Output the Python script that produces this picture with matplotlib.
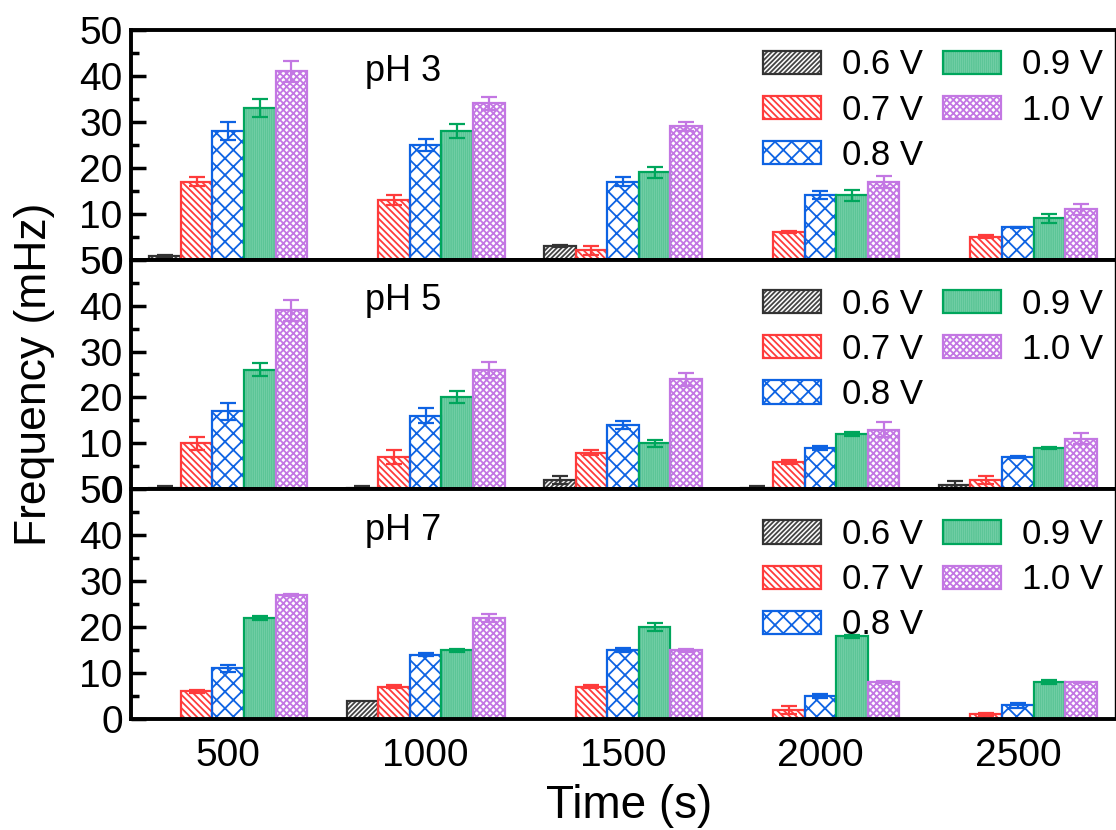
import numpy as np
import matplotlib
matplotlib.use("Agg")
import matplotlib.pyplot as plt

plt.rcParams['font.family'] = ['Liberation Sans', 'DejaVu Sans']
plt.rcParams['hatch.linewidth'] = 1.3

times = [500, 1000, 1500, 2000, 2500]
voltages = ['0.6 V', '0.7 V', '0.8 V', '0.9 V', '1.0 V']
panels = ['pH 3', 'pH 5', 'pH 7']

# frequency (mHz) per voltage, one row per voltage, columns = times
ph3 = [[0.8, 0, 3, 0, 0],
       [17, 13, 2, 6, 5],
       [28, 25, 17, 14, 7],
       [33, 28, 19, 14, 9],
       [41, 34, 29, 17, 11]]
ph3_err = [[0.2, 0, 0.2, 0, 0],
           [1, 1, 1, 0.2, 0.3],
           [2, 1.3, 1, 0.9, 0.1],
           [2, 1.6, 1.2, 1.2, 1],
           [2.3, 1.5, 1, 1.3, 1.2]]

ph5 = [[0.2, 0.2, 2, 0.2, 1],
       [10, 7, 8, 6, 2],
       [17, 16, 14, 9, 7],
       [26, 20, 10, 12, 9],
       [39, 26, 24, 13, 11]]
ph5_err = [[0.6, 0.6, 0.8, 0.5, 0.8],
           [1.4, 1.5, 0.6, 0.4, 0.8],
           [1.8, 1.6, 0.8, 0.4, 0.2],
           [1.4, 1.3, 0.8, 0.4, 0.2],
           [2.3, 1.8, 1.4, 1.6, 1.2]]

ph7 = [[0, 4, 0, 0, 0],
       [6, 7, 7, 2, 1],
       [11, 14, 15, 5, 3],
       [22, 15, 20, 18, 8],
       [27, 22, 15, 8, 8]]
ph7_err = [[0, 0, 0, 0, 0],
           [0.3, 0.3, 0.3, 0.8, 0.3],
           [0.8, 0.3, 0.4, 0.4, 0.5],
           [0.4, 0.3, 0.8, 0.3, 0.4],
           [0.3, 0.8, 0.3, 0.2, 0.1]]

edge_colors = ['#333333', '#fe3b3b', '#0e63e3', '#00a65c', '#c377e3']
hatch_colors = ['#444444', '#fe3b3b', '#0e63e3', '#5cc597', '#c377e3']
face_colors = ['white', 'white', 'white', '#a6e5c8', 'white']
hatches = ['///////', '\\\\\\\\\\', 'xx', '||||||||', 'xxxxx']

width = 80
offsets = [-160, -80, 0, 80, 160]

fig, axes = plt.subplots(3, 1, sharex=True, figsize=(11.16, 8.3), dpi=100)
fig.subplots_adjust(left=0.1174, right=0.9991, top=0.9639, bottom=0.1337, hspace=0)

datasets = [(ph3, ph3_err), (ph5, ph5_err), (ph7, ph7_err)]
legend_y = [0.995, 0.953, 0.95]

for ax, (vals, errs), name, ly in zip(axes, datasets, panels, legend_y):
    handles = []
    for i in range(len(voltages)):
        x = np.array(times) + offsets[i]
        # hatched fill, then the outline on top
        fill = ax.bar(x, vals[i], width=width, facecolor=face_colors[i],
                      edgecolor=hatch_colors[i], hatch=hatches[i], linewidth=0,
                      zorder=2)
        edge = ax.bar(x, vals[i], width=width, fill=False,
                      edgecolor=edge_colors[i], linewidth=1.6, zorder=2.5)
        handles.append((fill, edge))
        e = np.array(errs[i])
        m = e > 0
        ax.errorbar(x[m], np.array(vals[i])[m], yerr=e[m], fmt='none',
                    ecolor=edge_colors[i], elinewidth=1.6, capsize=6,
                    capthick=1.6, zorder=3)
    ax.set_ylim(0, 50)
    ax.set_yticks([0, 10, 20, 30, 40, 50])
    ax.set_yticks([5, 15, 25, 35, 45], minor=True)
    ax.tick_params(axis='y', which='major', direction='in', length=11,
                   width=2.5, labelsize=28, pad=6)
    ax.tick_params(axis='y', which='minor', direction='in', length=6, width=2.5)
    ax.tick_params(axis='x', length=0, labelsize=28, pad=14)
    for s in ['left', 'top', 'bottom']:
        ax.spines[s].set_linewidth(2.8)
    ax.spines['right'].set_linewidth(1.0)
    ax.text(0.238, 0.82, name, transform=ax.transAxes, fontsize=26,
            ha='left', va='center')
    ax.legend(handles, voltages, ncol=2, loc='upper right',
              bbox_to_anchor=(1.005, ly), frameon=False, fontsize=25,
              handlelength=1.65, handleheight=0.65, handletextpad=0.6,
              columnspacing=0.6, labelspacing=0.35, borderaxespad=0.1)

axes[-1].set_xlim(254, 2746)
axes[-1].set_xticks(times)

fig.text(0.031, 0.549, 'Frequency (mHz)', rotation=90, fontsize=32,
         ha='center', va='center')
fig.text(0.5636, 0.029, 'Time (s)', fontsize=33, ha='center', va='center')

fig.savefig('out.png', dpi=100)
